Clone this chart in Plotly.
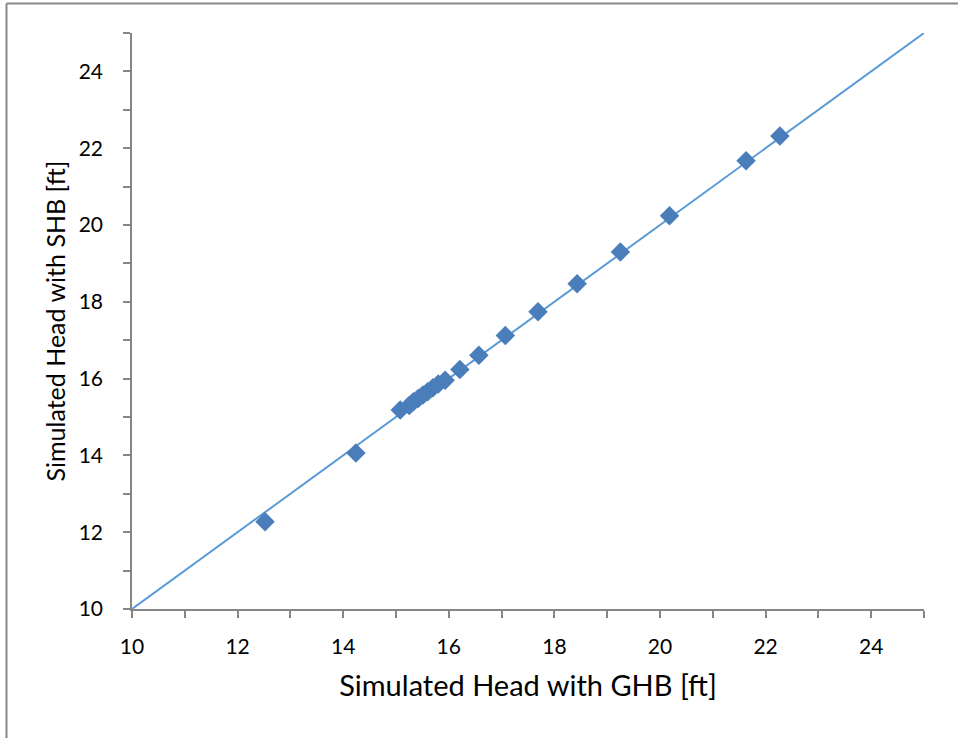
import plotly.graph_objects as go

# Data
ghb_head = [12.52, 14.24, 15.08, 15.25, 15.33, 15.42, 15.51, 15.60, 15.70, 15.80, 15.93,
            16.21, 16.57, 17.07, 17.69, 18.43, 19.25, 20.18, 21.63, 22.27]
shb_head = [12.27, 14.06, 15.18, 15.30, 15.40, 15.48, 15.57, 15.66, 15.76, 15.86, 15.96,
            16.24, 16.61, 17.12, 17.74, 18.47, 19.30, 20.24, 21.67, 22.32]
line_x = [10, 25]
line_y = [10, 25]
tick_vals = [10, 12, 14, 16, 18, 20, 22, 24]
x_title = "Simulated Head with GHB [ft]"
y_title = "Simulated Head with SHB [ft]"

FONT = "Lato"
AXIS_COLOR = "#868686"

fig = go.Figure()
fig.add_trace(go.Scatter(x=line_x, y=line_y, mode="lines",
                         line=dict(color="#5B9BD5", width=2), hoverinfo="skip",
                         showlegend=False))
fig.add_trace(go.Scatter(x=ghb_head, y=shb_head, mode="markers",
                         marker=dict(symbol="diamond", size=15, color="#4A7EBB",
                                     line=dict(width=0)),
                         showlegend=False))

axis_common = dict(
    range=[10, 25], tickvals=tick_vals, showgrid=False, zeroline=False,
    showline=True, linecolor=AXIS_COLOR, linewidth=1.5,
    ticks="outside", ticklen=7, tickwidth=1.5, tickcolor=AXIS_COLOR,
    minor=dict(ticks="outside", dtick=1, tick0=10, ticklen=7, tickwidth=1.5,
               tickcolor=AXIS_COLOR, showgrid=False),
    tickfont=dict(family=FONT, size=21, color="#000000"),
)

fig.update_xaxes(**axis_common, ticklabelstandoff=11,
                 title=dict(text=x_title, font=dict(family=FONT, size=29, color="#000000"),
                            standoff=19))
fig.update_yaxes(**axis_common, ticklabelstandoff=16,
                 title=dict(text=y_title, font=dict(family=FONT, size=25, color="#000000"),
                            standoff=6))

W, H = 958, 738
L, R, T, B = 132, 34, 33, 129
pw, ph = W - L - R, H - T - B

def px_x(p):
    return (p - L) / pw

def px_y(p):
    return (H - B - p) / ph

frame = dict(color="#878787", width=2)
fig.add_shape(type="line", xref="paper", yref="paper",
              x0=px_x(6.5), x1=px_x(6.5), y0=px_y(H + 5), y1=px_y(3.5), line=frame, layer="below")
fig.add_shape(type="line", xref="paper", yref="paper",
              x0=px_x(6.5), x1=px_x(W + 5), y0=px_y(3.5), y1=px_y(3.5), line=frame, layer="below")

fig.update_layout(
    width=W, height=H,
    margin=dict(l=L, r=R, t=T, b=B, pad=0),
    paper_bgcolor="white", plot_bgcolor="white",
    font=dict(family=FONT, color="#000000"),
)

fig.write_html("out.html", config={"displayModeBar": False},
               post_script="document.body.style.margin='0';document.body.style.overflow='hidden';")
